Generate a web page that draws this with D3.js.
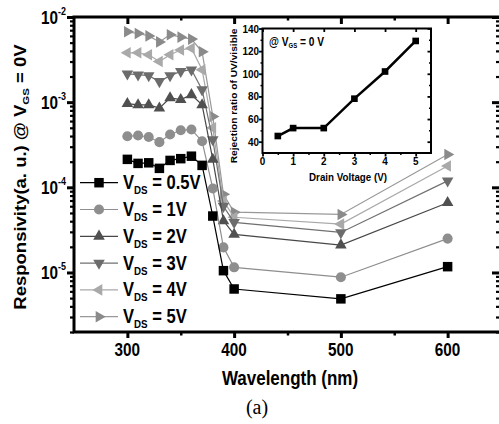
<!DOCTYPE html>
<html>
<head>
<meta charset="utf-8">
<script src="https://cdn.jsdelivr.net/npm/d3@7"></script>
<style>
  html, body { margin: 0; padding: 0; background: #fff; }
  svg { display: block; }
  text { font-family: "Liberation Sans", Arial, sans-serif; font-weight: bold; fill: #000; white-space: pre; }
</style>
</head>
<body>
<svg id="chart" width="499" height="424"></svg>
<script>
// Wavelength sweep (nm)
const wavelengths = [300, 310, 320, 330, 340, 350, 360, 370, 380, 390, 400, 500, 600];

// Responsivity (a.u.) at V_GS = 0 V, one array per drain bias
const resp05 = [2.13e-4, 1.91e-4, 1.94e-4, 1.67e-4, 2.07e-4, 2.17e-4, 2.32e-4, 1.81e-4, 4.6e-5, 1.05e-5, 6.4e-6, 4.9e-6, 1.17e-5];
const resp1  = [3.98e-4, 4.06e-4, 3.9e-4, 3.39e-4, 4.17e-4, 4.68e-4, 4.77e-4, 3.48e-4, 9.7e-5, 1.97e-5, 1.15e-5, 8.8e-6, 2.5e-5];
const resp2  = [9.6e-4, 9.3e-4, 9.3e-4, 8.5e-4, 1.12e-3, 1.07e-3, 1.22e-3, 9.3e-4, 2.13e-4, 4.04e-5, 2.8e-5, 2.1e-5, 6.6e-5];
const resp3  = [2.15e-3, 2.1e-3, 2.05e-3, 1.75e-3, 2.05e-3, 2.3e-3, 2.4e-3, 1.4e-3, 3.64e-4, 6.0e-5, 3.87e-5, 2.95e-5, 1.19e-4];
const resp4  = [3.8e-3, 3.8e-3, 3.6e-3, 3.0e-3, 3.6e-3, 4.1e-3, 4.3e-3, 2.4e-3, 5.0e-4, 6.9e-5, 4.45e-5, 3.7e-5, 1.78e-4];
const resp5  = [6.7e-3, 6.4e-3, 6.0e-3, 5.1e-3, 6.2e-3, 5.8e-3, 5.5e-3, 3.9e-3, 6.8e-4, 8.3e-5, 5.1e-5, 4.8e-5, 2.43e-4];

const seriesLabels = ["0.5V", "1V", "2V", "3V", "4V", "5V"];

// Axis ticks
const xMajorTicks = [300, 400, 500, 600];
const xMinorTicks = [350, 450, 550];
const yTickExponents = [-2, -3, -4, -5];

// Inset: UV/visible rejection ratio vs drain voltage
const insetVoltage = [0.5, 1, 2, 3, 4, 5];
const insetRatio = [45, 52, 52, 78, 102, 129];
const insetYTicks = [40, 60, 80, 100, 120, 140];
const insetYMinor = [50, 70, 90, 110, 130];
const insetXTicks = [0, 1, 2, 3, 4, 5];
const insetXMinor = [0.5, 1.5, 2.5, 3.5, 4.5];

// Per-series look
const series = [
  { name: seriesLabels[0], values: resp05, symbol: d3.symbolSquare,   size: 90, rot: 0,   fill: "#000000", line: "#000000" },
  { name: seriesLabels[1], values: resp1,  symbol: d3.symbolCircle,   size: 80, rot: 0,   fill: "#8e8e8e", line: "#8e8e8e" },
  { name: seriesLabels[2], values: resp2,  symbol: d3.symbolTriangle, size: 58, rot: 0,   fill: "#505050", line: "#474747" },
  { name: seriesLabels[3], values: resp3,  symbol: d3.symbolTriangle, size: 58, rot: 180, fill: "#6c6c6c", line: "#707070" },
  { name: seriesLabels[4], values: resp4,  symbol: d3.symbolTriangle, size: 58, rot: -90, fill: "#a9a9a9", line: "#a9a9a9" },
  { name: seriesLabels[5], values: resp5,  symbol: d3.symbolTriangle, size: 58, rot: 90,  fill: "#8a8a8a", line: "#999999" }
];

const SX = 0.85; // horizontal squeeze of the lettering
const svg = d3.select("#chart");

// text helper: parts are strings or {t, size, dy}
function label(parent, x, y, parts, opt) {
  const o = Object.assign({ size: 18, anchor: "start", sx: SX, rotate: 0, family: null, weight: null }, opt || {});
  let tr = `translate(${x},${y}) scale(${o.sx},1)`;
  if (o.rotate) tr += ` rotate(${o.rotate})`;
  const g = parent.append("g").attr("transform", tr);
  const t = g.append("text").attr("text-anchor", o.anchor).style("font-size", o.size + "px");
  if (o.family) t.style("font-family", o.family);
  if (o.weight) t.style("font-weight", o.weight);
  parts.forEach(p => {
    if (typeof p === "string") t.append("tspan").text(p);
    else {
      const s = t.append("tspan").text(p.t);
      if (p.size) s.style("font-size", p.size + "px");
      if (p.dy) s.attr("dy", p.dy);
    }
  });
  return g;
}

// ---------- main plot ----------
const L = 74, R = 501, T = 17, B = 332;
const x = d3.scaleLinear().domain([250, 650]).range([L, R]);
const y = d3.scaleLog().domain([2e-6, 1e-2]).range([B, T]);

const yMajor = yTickExponents.map(e => Math.pow(10, e));
const yMinor = [];
for (let e = -6; e <= -3; e++) for (let k = 2; k <= 9; k++) {
  const v = k * Math.pow(10, e);
  if (v >= 2e-6 && v < 1e-2) yMinor.push(v);
}

function styleAxis(g, w) {
  g.select(".domain").remove();
  g.selectAll(".tick line").attr("stroke", "#000").attr("stroke-width", w);
  g.selectAll(".tick text").remove();
}

// bottom (outward) and top (inward)
svg.append("g").attr("transform", `translate(0,${B})`)
  .call(d3.axisBottom(x).tickValues(xMajorTicks).tickSize(6).tickFormat(""))
  .call(g => styleAxis(g, 3));
svg.append("g").attr("transform", `translate(0,${B})`)
  .call(d3.axisBottom(x).tickValues(xMinorTicks).tickSize(3.5).tickFormat(""))
  .call(g => styleAxis(g, 2.5));
svg.append("g").attr("transform", `translate(0,${T})`)
  .call(d3.axisBottom(x).tickValues(xMajorTicks).tickSize(7).tickFormat(""))
  .call(g => styleAxis(g, 3));
svg.append("g").attr("transform", `translate(0,${T})`)
  .call(d3.axisBottom(x).tickValues(xMinorTicks).tickSize(3.5).tickFormat(""))
  .call(g => styleAxis(g, 2.5));

// left (outward) and right (inward)
svg.append("g").attr("transform", `translate(${L},0)`)
  .call(d3.axisLeft(y).tickValues(yMajor).tickSize(7).tickFormat(""))
  .call(g => styleAxis(g, 3));
svg.append("g").attr("transform", `translate(${L},0)`)
  .call(d3.axisLeft(y).tickValues(yMinor).tickSize(4).tickFormat(""))
  .call(g => styleAxis(g, 2.2));
svg.append("g").attr("transform", `translate(${R},0)`)
  .call(d3.axisLeft(y).tickValues(yMajor).tickSize(9).tickFormat(""))
  .call(g => styleAxis(g, 3));
svg.append("g").attr("transform", `translate(${R},0)`)
  .call(d3.axisLeft(y).tickValues(yMinor).tickSize(5).tickFormat(""))
  .call(g => styleAxis(g, 2.2));

// frame
svg.append("rect").attr("x", L).attr("y", T).attr("width", R - L).attr("height", B - T)
  .attr("fill", "none").attr("stroke", "#000").attr("stroke-width", 3);

// tick labels
xMajorTicks.forEach(v => label(svg, x(v), 356, [String(v)], { size: 18, anchor: "middle" }));
yTickExponents.forEach(e => label(svg, 66, y(Math.pow(10, e)) + 7,
  ["10", { t: String(e), size: 10.5, dy: -9 }], { size: 18, anchor: "end" }));

// axis titles
label(svg, 290, 385, ["Wavelength (nm)"], { size: 20, anchor: "middle" });
label(svg, 26, 177, ["Responsivity(a. u.) @ V", { t: "GS", size: 11.5, dy: 4 }, { t: " = 0V", dy: -4 }],
  { size: 18.5, anchor: "middle", rotate: -90 });
label(svg, 257, 414, ["(a)"], { size: 20, anchor: "middle", sx: 1, family: "'Liberation Serif', 'Times New Roman', serif", weight: "normal" });

// series lines and markers (highest bias drawn first)
const line = d3.line().x(d => x(d[0])).y(d => y(d[1]));
series.slice().reverse().forEach(s => {
  const pts = wavelengths.map((w, i) => [w, s.values[i]]);
  svg.append("path").datum(pts).attr("d", line)
    .attr("fill", "none").attr("stroke", s.line).attr("stroke-width", 1.2);
  svg.append("g").selectAll("path").data(pts).join("path")
    .attr("transform", d => `translate(${x(d[0])},${y(d[1])}) rotate(${s.rot})`)
    .attr("d", d3.symbol().type(s.symbol).size(s.size)())
    .attr("fill", s.fill);
});

// legend
const legY0 = 182.7, legDY = 26.8;
series.forEach((s, i) => {
  const ly = legY0 + i * legDY;
  svg.append("line").attr("x1", 80).attr("x2", 118).attr("y1", ly).attr("y2", ly)
    .attr("stroke", s.line).attr("stroke-width", 1.2);
  svg.append("path").attr("transform", `translate(99,${ly}) rotate(${s.rot})`)
    .attr("d", d3.symbol().type(s.symbol).size(s.size)()).attr("fill", s.fill);
  label(svg, 123, ly + 6.5, ["V", { t: "DS", size: 11.5, dy: 5 }, { t: " = " + s.name, dy: -5 }], { size: 19.5 });
});

// ---------- inset ----------
const iL = 262.5, iR = 431, iT = 28.5, iB = 153;
const ix = d3.scaleLinear().domain([0, 5.5]).range([iL, iR]);
const iy = d3.scaleLinear().domain([30, 140]).range([iB, iT]);

svg.append("rect").attr("x", iL).attr("y", iT).attr("width", iR - iL).attr("height", iB - iT)
  .attr("fill", "#fff");

svg.append("g").attr("transform", `translate(0,${iB})`)
  .call(d3.axisBottom(ix).tickValues(insetXTicks).tickSize(3.5).tickFormat(""))
  .call(g => styleAxis(g, 1.8));
svg.append("g").attr("transform", `translate(0,${iB})`)
  .call(d3.axisBottom(ix).tickValues(insetXMinor).tickSize(2).tickFormat(""))
  .call(g => styleAxis(g, 1.5));
svg.append("g").attr("transform", `translate(0,${iT})`)
  .call(d3.axisBottom(ix).tickValues(insetXTicks).tickSize(3.5).tickFormat(""))
  .call(g => styleAxis(g, 1.8));
svg.append("g").attr("transform", `translate(${iL},0)`)
  .call(d3.axisLeft(iy).tickValues(insetYTicks).tickSize(3.5).tickFormat(""))
  .call(g => styleAxis(g, 1.8));
svg.append("g").attr("transform", `translate(${iL},0)`)
  .call(d3.axisLeft(iy).tickValues(insetYMinor).tickSize(2).tickFormat(""))
  .call(g => styleAxis(g, 1.5));
svg.append("g").attr("transform", `translate(${iR},0)`)
  .call(d3.axisLeft(iy).tickValues(insetYTicks).tickSize(3.5).tickFormat(""))
  .call(g => styleAxis(g, 1.8));
svg.append("g").attr("transform", `translate(${iR},0)`)
  .call(d3.axisLeft(iy).tickValues(insetYMinor).tickSize(2).tickFormat(""))
  .call(g => styleAxis(g, 1.5));

svg.append("rect").attr("x", iL).attr("y", iT).attr("width", iR - iL).attr("height", iB - iT)
  .attr("fill", "none").attr("stroke", "#000").attr("stroke-width", 2);

insetYTicks.forEach(v => label(svg, 259, iy(v) + 4, [String(v)], { size: 11, anchor: "end", sx: 0.9 }));
insetXTicks.forEach(v => label(svg, ix(v), 164.5, [String(v)], { size: 11, anchor: "middle", sx: 0.9 }));

label(svg, 348, 180.5, ["Drain Voltage (V)"], { size: 11.5, anchor: "middle" });
label(svg, 237, 96, ["Rejection ratio of UV/visible"], { size: 10.2, anchor: "middle", rotate: -90 });
label(svg, 269, 46, ["@ V", { t: "GS", size: 7, dy: 2 }, { t: " = 0 V", dy: -2 }], { size: 12 });

const iPts = insetVoltage.map((v, i) => [v, insetRatio[i]]);
svg.append("path").datum(iPts)
  .attr("d", d3.line().x(d => ix(d[0])).y(d => iy(d[1])))
  .attr("fill", "none").attr("stroke", "#000").attr("stroke-width", 2.5);
svg.append("g").selectAll("path").data(iPts).join("path")
  .attr("transform", d => `translate(${ix(d[0])},${iy(d[1])})`)
  .attr("d", d3.symbol().type(d3.symbolSquare).size(44)())
  .attr("fill", "#000");
</script>
</body>
</html>
